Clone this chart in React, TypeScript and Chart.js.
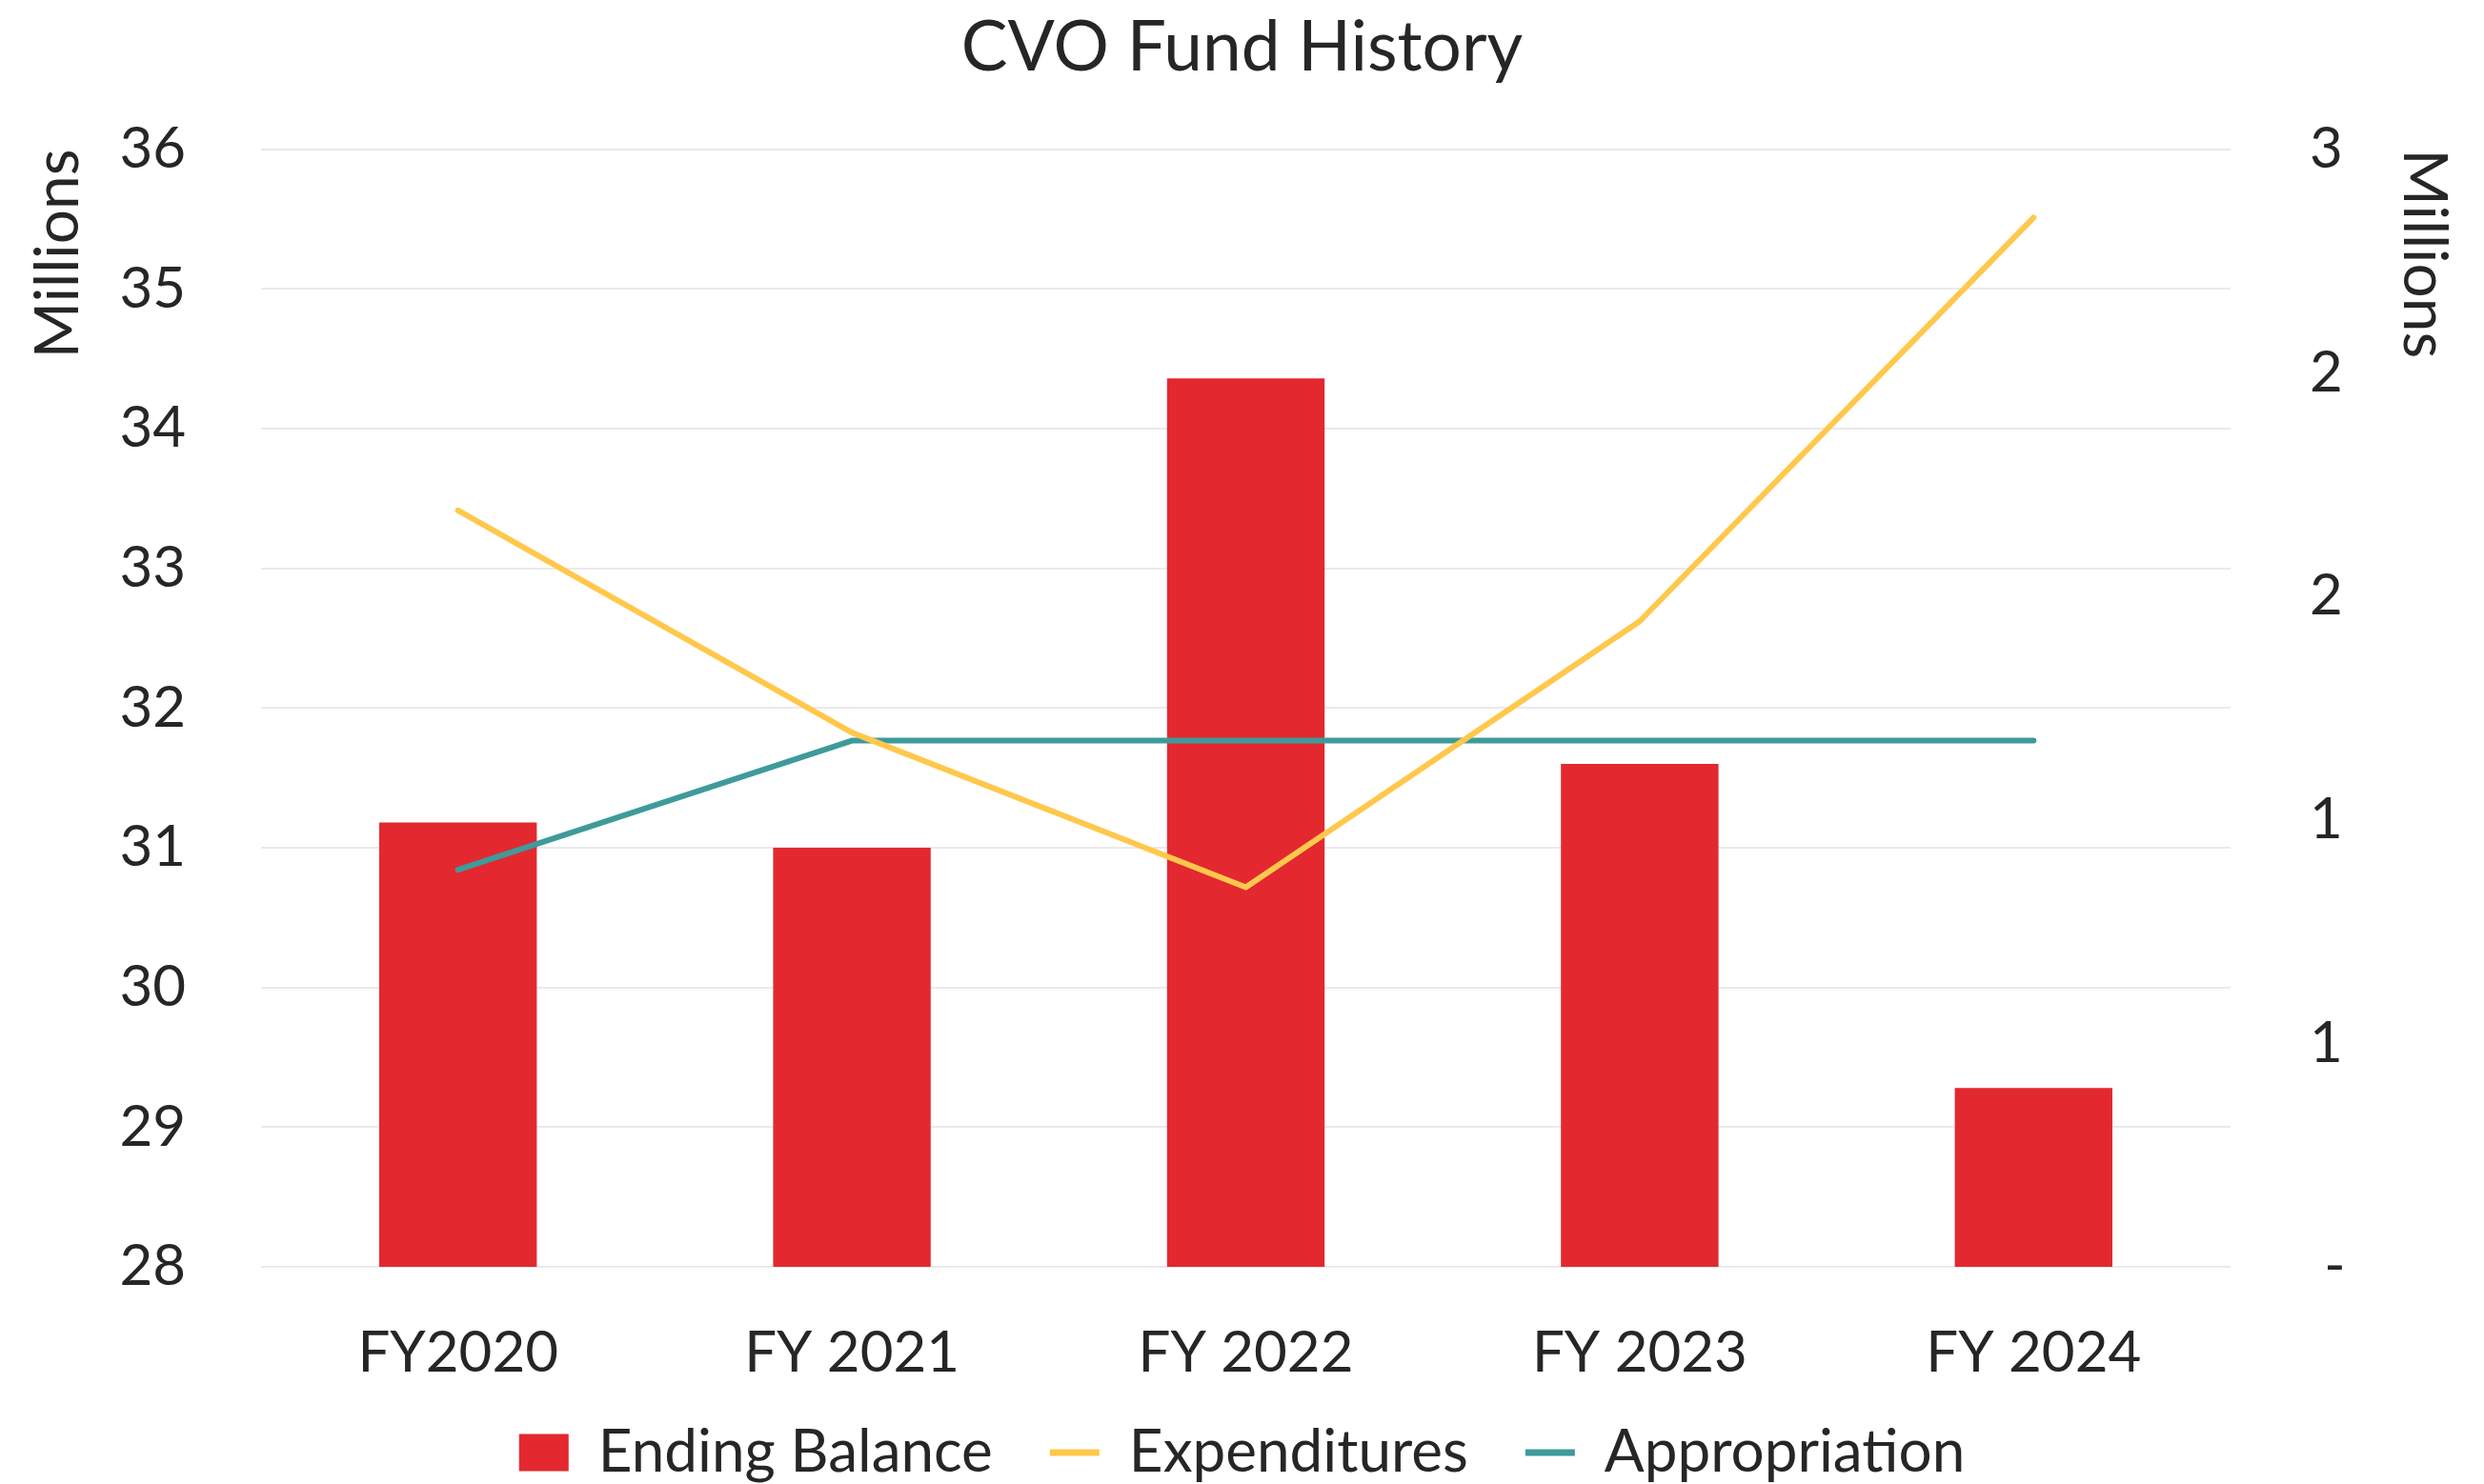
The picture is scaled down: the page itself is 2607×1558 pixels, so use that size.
import React, { useEffect, useRef } from 'react';
import { Chart, registerables } from 'chart.js';

Chart.register(...registerables);

const categories = ['FY2020', 'FY 2021', 'FY 2022', 'FY 2023', 'FY 2024'];
const endingBalance = [31.18, 31.0, 34.36, 31.6, 29.28];
const expenditures = [1.692, 1.195, 0.849, 1.444, 2.347];
const appropriation = [0.888, 1.177, 1.177, 1.177, 1.177];

const leftMin = 28;
const leftMax = 36;
const leftStep = 1;
const rightMin = 0;
const rightMax = 2.5;
const rightStep = 0.5;

const RED = '#E3282F';
const YELLOW = '#FFC84C';
const TEAL = '#3F9A9B';
const TEXT = '#262626';
const GRID = '#EAEAEA';
const FONT = 'Lato';

const CANVAS_H = 1558;
const LEGEND_PAD = 60;
const LEGEND_HEIGHT = 88;
const LEGEND_TOP = 1434;
const PLOT_BOTTOM = 1330;

const legendPlacePlugin = {
  id: 'legendPlace',
  beforeLayout(chart: any) {
    const lg = chart.legend;
    if (lg && !lg._hfix) {
      const orig = lg.fit.bind(lg);
      lg.fit = function () {
        orig();
        this.height = LEGEND_HEIGHT;
      };
      lg._hfix = true;
    }
  },
  afterLayout(chart: any) {
    const lg = chart.legend;
    if (lg) {
      lg.top = LEGEND_TOP;
      lg.bottom = CANVAS_H;
      lg.height = CANVAS_H - LEGEND_TOP;
    }
  },
};

export default function App() {
  const ref = useRef<HTMLCanvasElement | null>(null);

  useEffect(() => {
    if (!ref.current) return;
    const chart = new Chart(ref.current, {
      type: 'bar',
      data: {
        labels: categories,
        datasets: [
          {
            type: 'bar',
            label: 'Ending Balance',
            data: endingBalance,
            backgroundColor: RED,
            borderWidth: 0,
            yAxisID: 'y',
            categoryPercentage: 1,
            barPercentage: 0.4,
            order: 2,
          },
          {
            type: 'line',
            label: 'Expenditures',
            data: expenditures,
            borderColor: YELLOW,
            backgroundColor: YELLOW,
            borderWidth: 6,
            pointRadius: 0,
            tension: 0,
            yAxisID: 'y1',
            borderCapStyle: 'round',
            borderJoinStyle: 'round',
            order: 1,
          },
          {
            type: 'line',
            label: 'Appropriation',
            data: appropriation,
            borderColor: TEAL,
            backgroundColor: TEAL,
            borderWidth: 6,
            pointRadius: 0,
            tension: 0,
            yAxisID: 'y1',
            borderCapStyle: 'round',
            borderJoinStyle: 'round',
            order: 1,
          },
        ],
      } as any,
      options: {
        responsive: false,
        animation: false,
        layout: { padding: 0 },
        plugins: {
          tooltip: { enabled: false },
          title: {
            display: true,
            text: 'CVO Fund History',
            color: TEXT,
            font: { family: FONT, size: 73, weight: 'normal' },
            padding: { top: 7, bottom: 62 },
          },
          legend: {
            display: true,
            position: 'bottom',
            labels: {
              color: TEXT,
              font: { family: FONT, size: 62 },
              usePointStyle: true,
              pointStyleWidth: 52,
              boxHeight: 39,
              padding: LEGEND_PAD,
              generateLabels: (c: any) => {
                const items = Chart.defaults.plugins.legend.labels.generateLabels(c);
                items.sort((a: any, b: any) => a.datasetIndex - b.datasetIndex);
                return items.map((it: any) => {
                  if (it.datasetIndex === 0) {
                    return { ...it, pointStyle: 'rect', lineWidth: 0, fillStyle: RED, strokeStyle: RED };
                  }
                  const col = it.datasetIndex === 1 ? YELLOW : TEAL;
                  return { ...it, pointStyle: 'line', lineWidth: 7, strokeStyle: col, fillStyle: col };
                });
              },
            },
          },
        },
        scales: {
          x: {
            grid: { display: false, drawTicks: false },
            border: { display: false },
            ticks: {
              color: TEXT,
              font: { family: FONT, size: 60 },
              padding: 55,
              maxRotation: 0,
              autoSkip: false,
            },
            afterFit: (s: any) => {
              s.height = CANVAS_H - LEGEND_HEIGHT - PLOT_BOTTOM;
            },
          },
          y: {
            position: 'left',
            min: leftMin,
            max: leftMax,
            grid: { display: true, color: GRID, lineWidth: 2, drawTicks: false },
            border: { display: false },
            ticks: {
              stepSize: leftStep,
              color: TEXT,
              font: { family: FONT, size: 60 },
              padding: 79,
            },
            title: {
              display: true,
              text: 'Millions',
              align: 'end',
              color: TEXT,
              font: { family: FONT, size: 64 },
              padding: { top: 23, bottom: 0 },
            },
            afterFit: (s: any) => {
              s.width = 274;
            },
          },
          y1: {
            position: 'right',
            min: rightMin,
            max: rightMax,
            grid: { display: false, drawTicks: false },
            border: { display: false },
            ticks: {
              stepSize: rightStep,
              color: TEXT,
              font: { family: FONT, size: 60 },
              padding: 83,
              callback: (v: any) => (Number(v) === 0 ? ' -' : String(Math.round(Number(v)))),
            },
            title: {
              display: true,
              text: 'Millions',
              align: 'end',
              color: TEXT,
              font: { family: FONT, size: 64 },
              padding: { top: 25, bottom: 0 },
            },
            afterFit: (s: any) => {
              s.width = 266;
            },
          },
        },
      } as any,
      plugins: [legendPlacePlugin],
    });
    return () => chart.destroy();
  }, []);

  return (
    <div style={{ position: 'fixed', left: 0, top: 0, width: 2607, height: CANVAS_H, background: '#fff' }}>
      <canvas ref={ref} width={2607} height={CANVAS_H} style={{ display: 'block' }} />
    </div>
  );
}
